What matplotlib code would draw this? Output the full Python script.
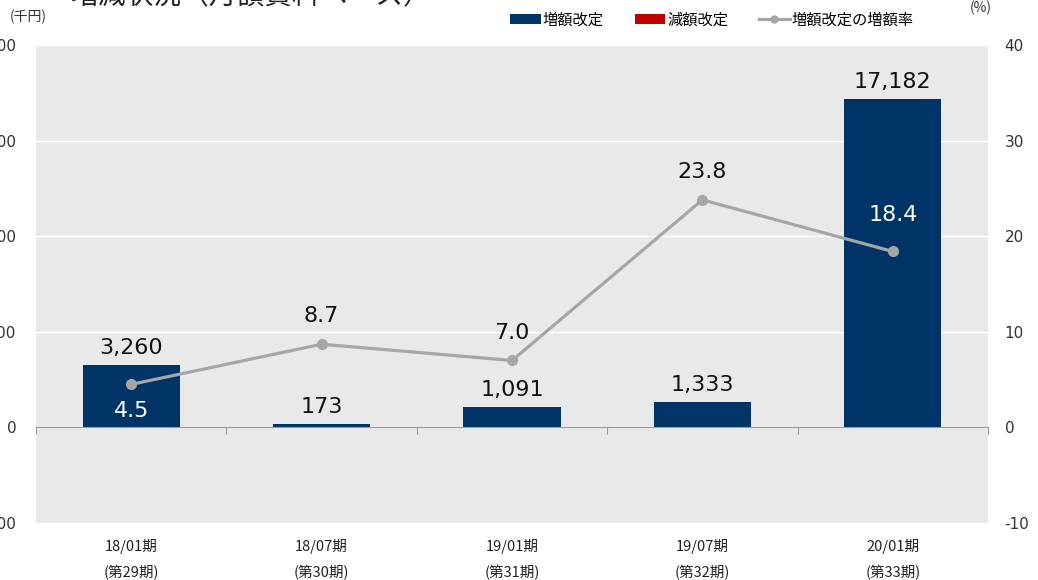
import matplotlib
matplotlib.use('Agg')
import matplotlib.pyplot as plt
import matplotlib.transforms as mtransforms
from matplotlib.patches import Patch
from matplotlib.lines import Line2D
import numpy as np

plt.rcParams['font.family'] = ['DejaVu Sans', 'Noto Sans CJK JP']
plt.rcParams['axes.unicode_minus'] = False

periods = ['18/01期', '18/07期', '19/01期', '19/07期', '20/01期']
terms = ['(第29期)', '(第30期)', '(第31期)', '(第32期)', '(第33期)']
increase = [3260, 173, 1091, 1333, 17182]
decrease = [0, 0, 0, 0, 0]
increase_rate = [4.5, 8.7, 7.0, 23.8, 18.4]
left_ticks = [-5000, 0, 5000, 10000, 15000, 20000]
right_ticks = [-10, 0, 10, 20, 30, 40]

navy = '#003366'
red = '#c00000'
gray = '#a6a6a6'
cjk = ['Noto Sans CJK JP', 'DejaVu Sans']

W, H = 1038, 580
fig = plt.figure(figsize=(W / 100, H / 100), dpi=100)
ax = fig.add_axes([36 / W, 1 - 523 / H, 952 / W, 478 / H])
ax.set_facecolor('#e9e9e9')

x = np.arange(len(periods))
ax.bar(x, increase, width=0.51, color=navy, zorder=2)
ax.bar(x, decrease, width=0.51, color=red, zorder=2)
ax.set_xlim(-0.5, len(periods) - 0.5)
ax.set_ylim(left_ticks[0], left_ticks[-1])
ax.set_yticks(left_ticks)
ax.set_yticklabels([f'{v:,}' for v in left_ticks])
ax.tick_params(axis='y', length=0, pad=14, labelsize=11, colors='#333333')
ax.grid(axis='y', color='white', linewidth=1)
ax.set_axisbelow(True)
for s in ['top', 'right', 'left']:
    ax.spines[s].set_visible(False)
ax.spines['bottom'].set_position(('data', 0))
ax.spines['bottom'].set_color('#999999')
ax.set_xticks(np.arange(len(periods) + 1) - 0.5)
ax.set_xticklabels([])
ax.tick_params(axis='x', length=5, color='#999999', direction='out')

for xi, v in zip(x, increase):
    ax.annotate(f'{v:,}', (xi, v), xytext=(0, 5), textcoords='offset points',
                ha='center', va='bottom', fontsize=16, color='#111111')

trans = mtransforms.blended_transform_factory(ax.transData, ax.transAxes)
for xi, p, t in zip(x, periods, terms):
    ax.text(xi, -0.05, p, transform=trans, ha='center', va='center',
            fontsize=10.5, family=cjk, color='#222222')
    ax.text(xi, -0.103, t, transform=trans, ha='center', va='center',
            fontsize=10.5, family=cjk, color='#222222')

ax2 = ax.twinx()
ax2.set_ylim(right_ticks[0], right_ticks[-1])
ax2.set_yticks(right_ticks)
ax2.tick_params(axis='y', length=0, pad=12, labelsize=11, colors='#333333')
for s in ax2.spines.values():
    s.set_visible(False)
ax2.plot(x, increase_rate, color=gray, linewidth=2.3, marker='o',
         markersize=7, zorder=3)

# rate labels: inside the bar (white) when the point sits on a bar
rate_pos = [(-19, 'white'), (20, '#111111'), (20, '#111111'),
            (20, '#111111'), (26, 'white')]
for xi, r, (dy, c) in zip(x, increase_rate, rate_pos):
    ax2.annotate(f'{r:.1f}', (xi, r), xytext=(0, dy), textcoords='offset points',
                 ha='center', va='center', fontsize=16, color=c)

fig.text(10 / W, 1 - 17 / H, '(千円)', fontsize=10, family=cjk,
         color='#333333', va='center', ha='left')
fig.text(970 / W, 1 - 8 / H, '(%)', fontsize=10, family=cjk,
         color='#333333', va='center', ha='left')
fig.text(70 / W, 1 + 4 / H, '増減状況（月額賃料ベース）', fontsize=20,
         family=cjk, color='#222222', va='center', ha='left')

handles = [Patch(facecolor=navy), Patch(facecolor=red),
           Line2D([0], [0], color=gray, linewidth=2.3, marker='o', markersize=5)]
labels = ['増額改定', '減額改定', '増額改定の増額率']
fig.legend(handles, labels, loc='center', bbox_to_anchor=(712 / W, 1 - 20 / H),
           ncol=3, frameon=False, prop={'family': cjk, 'size': 11},
           handlelength=2.0, handleheight=0.6, handletextpad=0.15,
           columnspacing=2.0)

fig.savefig('out.png', dpi=100)
